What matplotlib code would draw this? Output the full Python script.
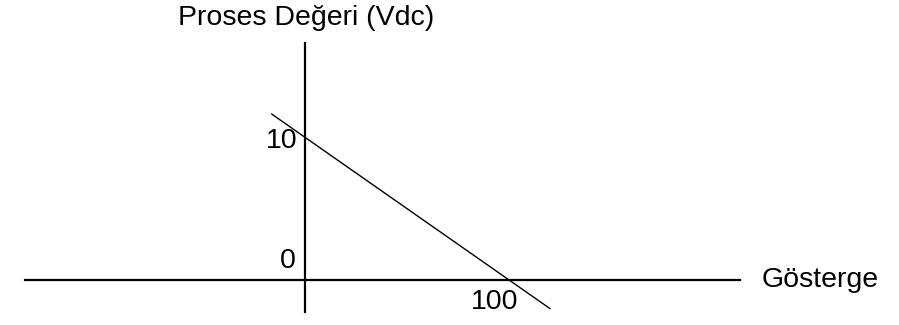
import matplotlib.pyplot as plt

plt.rcParams['font.family'] = ['Liberation Sans', 'DejaVu Sans']

# karakteristik dogru (okunan uc noktalar)
line_x = [-16.2, 119.5]
line_y = [11.6, -2.0]

# eksen etiketleri
tick_vals_y = [10, 0]
tick_vals_x = [100]
xlabel = 'Gösterge'
ylabel = 'Proses Değeri (Vdc)'

fig = plt.figure(figsize=(8.99, 3.25), dpi=100)
ax = fig.add_axes([0, 0, 1, 1])
ax.set_xlim(-148.8, 289.8)
ax.set_ylim(-3.15, 19.58)

ax.spines['top'].set_visible(False)
ax.spines['right'].set_visible(False)
ax.spines['left'].set_position(('data', 0))
ax.spines['bottom'].set_position(('data', 0))
ax.spines['left'].set_bounds(-2.24, 16.6)
ax.spines['bottom'].set_bounds(-136.6, 212)
for s in ['left', 'bottom']:
    ax.spines[s].set_linewidth(1.6)
    ax.spines[s].set_color('black')
ax.set_xticks([])
ax.set_yticks([])
ax.patch.set_alpha(0)

ax.plot(line_x, line_y, color='black', lw=1.0)

fs = 20.5
ax.text(-3.8, tick_vals_y[0] - 0.25, str(tick_vals_y[0]), ha='right', va='center', fontsize=fs)
ax.text(-4.5, tick_vals_y[1] + 1.3, str(tick_vals_y[1]), ha='right', va='center', fontsize=fs)
ax.text(tick_vals_x[0] - 7.5, -1.55, str(tick_vals_x[0]), ha='center', va='center', fontsize=fs)
ax.text(223, 0, xlabel, ha='left', va='center', fontsize=fs)
ax.text(-62, 18.35, ylabel, ha='left', va='center', fontsize=fs)

plt.savefig('out.png', dpi=100)
